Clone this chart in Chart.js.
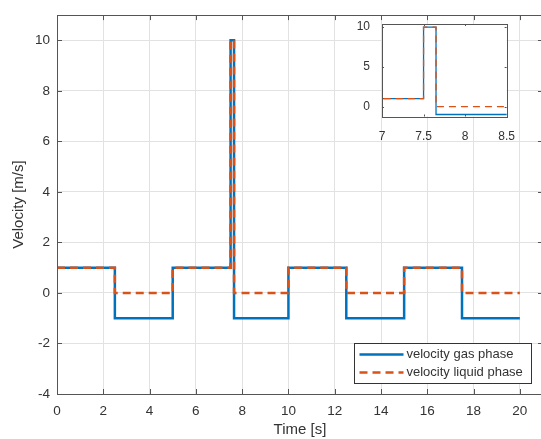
<!DOCTYPE html>
<html>
<head>
<meta charset="utf-8">
<script src="https://cdn.jsdelivr.net/npm/chart.js@4.4.0/dist/chart.umd.min.js"></script>
<style>
    body { margin: 0; background: #fff; overflow: hidden; }
    #wrap { position: relative; width: 541px; height: 439px; overflow: hidden; }
    #grafico { position: absolute; left: 0; top: 0; }
    #inset { position: absolute; left: 340px; top: 0; }
</style>
</head>
<body>
<div id="wrap">
    <canvas id="grafico" width="560" height="439"></canvas>
    <canvas id="inset" width="180" height="145"></canvas>
</div>
<script>
// ==========================
// DADOS
// ==========================
const tempos = [0, 2.5, 5, 7.5, 7.65, 10, 12.5, 15, 17.5, 20];
const gas = [1, -1, 1, 10, -1, 1, -1, 1, -1, -1];
const liquido = [1, 0, 1, 10, 0, 1, 0, 1, 0, 0];

const xTicks = [0, 2, 4, 6, 8, 10, 12, 14, 16, 18, 20];
const yTicks = [-4, -2, 0, 2, 4, 6, 8, 10];
const xTicksInset = [7, 7.5, 8, 8.5];
const yTicksInset = [0, 5, 10];

const labels = ["velocity gas phase", "velocity liquid phase"];

const AZUL = "#0072BD";
const LARANJA = "#D95319";
const FONTE = "'Liberation Sans', Arial, sans-serif";
const TEXTO = "#333";

function pontos(valores) {
    return tempos.map((t, i) => ({ x: t, y: valores[i] }));
}

function datasets(largura, tracos) {
    return [{
        label: labels[0],
        data: pontos(gas),
        borderColor: AZUL,
        borderWidth: largura,
        stepped: true,
        pointRadius: 0,
        order: 1
    }, {
        label: labels[1],
        data: pontos(liquido),
        borderColor: LARANJA,
        borderWidth: largura,
        borderDash: tracos,
        stepped: true,
        pointRadius: 0,
        order: 0
    }];
}

const numero = v => String(v);

// caixa + ticks pra dentro (estilo matlab)
function caixa(chart, tam) {
    const { ctx, chartArea: a, scales } = chart;
    ctx.save();
    ctx.strokeStyle = "#555";
    ctx.lineWidth = 1;
    ctx.beginPath();
    scales.x.ticks.forEach(t => {
        const px = Math.round(scales.x.getPixelForValue(t.value)) + 0.5;
        ctx.moveTo(px, a.bottom); ctx.lineTo(px, a.bottom - tam);
        ctx.moveTo(px, a.top); ctx.lineTo(px, a.top + tam);
    });
    scales.y.ticks.forEach(t => {
        const py = Math.round(scales.y.getPixelForValue(t.value)) + 0.5;
        ctx.moveTo(a.left, py); ctx.lineTo(a.left + tam, py);
        ctx.moveTo(a.right, py); ctx.lineTo(a.right - tam, py);
    });
    ctx.stroke();
    ctx.strokeRect(Math.round(a.left) + 0.5, Math.round(a.top) + 0.5,
        Math.round(a.right - a.left), Math.round(a.bottom - a.top));
    ctx.restore();
}

const pluginCaixa = {
    id: "caixa",
    afterDraw(chart) {
        caixa(chart, 5);

        // legenda
        const { ctx, chartArea: a } = chart;
        const w = 177, h = 40;
        const x0 = a.right - 12 - w + 0.5;
        const y0 = a.bottom - 11 - h + 0.5;
        ctx.save();
        ctx.fillStyle = "#fff";
        ctx.fillRect(x0, y0, w, h);
        ctx.strokeStyle = "#333";
        ctx.lineWidth = 1;
        ctx.strokeRect(x0, y0, w, h);

        const linhas = [
            { cor: AZUL, dash: [] , y: y0 + 11 },
            { cor: LARANJA, dash: [8, 5], y: y0 + 29 }
        ];
        linhas.forEach((l, i) => {
            ctx.beginPath();
            ctx.setLineDash(l.dash);
            ctx.strokeStyle = l.cor;
            ctx.lineWidth = 2.5;
            ctx.moveTo(x0 + 5, l.y);
            ctx.lineTo(x0 + 49, l.y);
            ctx.stroke();
            ctx.setLineDash([]);
            ctx.fillStyle = TEXTO;
            ctx.font = "13px " + FONTE;
            ctx.textBaseline = "middle";
            ctx.fillText(labels[i], x0 + 52, l.y);
        });
        ctx.restore();
    }
};

const pluginInset = {
    id: "fundoInset",
    beforeDraw(chart) {
        const { ctx, chartArea: a } = chart;
        ctx.save();
        ctx.fillStyle = "#fff";
        ctx.fillRect(a.left, a.top, a.right - a.left, a.bottom - a.top);
        ctx.restore();
    },
    afterDraw(chart) {
        caixa(chart, 2);
    }
};

// ==========================
// GRAFICO PRINCIPAL
// ==========================
new Chart(document.getElementById("grafico"), {
    type: "line",
    data: { datasets: datasets(2.5, [8, 5]) },
    options: {
        responsive: false,
        animation: false,
        layout: { padding: { left: 0, top: 12, right: 17, bottom: 0 } },
        plugins: { legend: { display: false }, tooltip: { enabled: false } },
        scales: {
            x: {
                type: "linear",
                min: 0,
                max: 21,
                afterBuildTicks: s => { s.ticks = xTicks.map(v => ({ value: v })); },
                afterFit: s => { s.height = 45; },
                grid: { color: "#e2e2e2", drawTicks: false },
                border: { display: false },
                ticks: { color: TEXTO, padding: 9, maxRotation: 0, callback: numero, font: { size: 13.5, family: FONTE } },
                title: { display: true, text: "Time [s]", color: TEXTO, padding: 0, font: { size: 15, family: FONTE } }
            },
            y: {
                min: -4,
                max: 11,
                afterBuildTicks: s => { s.ticks = yTicks.map(v => ({ value: v })); },
                afterFit: s => { s.width = 57; },
                grid: { color: "#e2e2e2", drawTicks: false },
                border: { display: false },
                ticks: { color: TEXTO, padding: 7, callback: numero, font: { size: 13.5, family: FONTE } },
                title: { display: true, text: "Velocity [m/s]", color: TEXTO, padding: { top: 10, bottom: 0 }, font: { size: 15, family: FONTE } }
            }
        }
    },
    plugins: [pluginCaixa]
});

// ==========================
// ZOOM (INSET)
// ==========================
new Chart(document.getElementById("inset"), {
    type: "line",
    data: { datasets: datasets(1.3, [7, 5]) },
    options: {
        responsive: false,
        animation: false,
        layout: { padding: { left: 0, top: 24, right: 13, bottom: 0 } },
        plugins: { legend: { display: false }, tooltip: { enabled: false } },
        scales: {
            x: {
                type: "linear",
                min: 7,
                max: 8.5,
                afterBuildTicks: s => { s.ticks = xTicksInset.map(v => ({ value: v })); },
                afterFit: s => { s.height = 28.5; },
                grid: { display: false },
                border: { display: false },
                ticks: { color: TEXTO, padding: 5, maxRotation: 0, callback: numero, font: { size: 12, family: FONTE } }
            },
            y: {
                min: -1.25,
                max: 10.4,
                afterBuildTicks: s => { s.ticks = yTicksInset.map(v => ({ value: v })); },
                afterFit: s => { s.width = 42; },
                grid: { display: false },
                border: { display: false },
                ticks: { color: TEXTO, padding: 4, callback: numero, font: { size: 12, family: FONTE } }
            }
        }
    },
    plugins: [pluginInset]
});
</script>
</body>
</html>
